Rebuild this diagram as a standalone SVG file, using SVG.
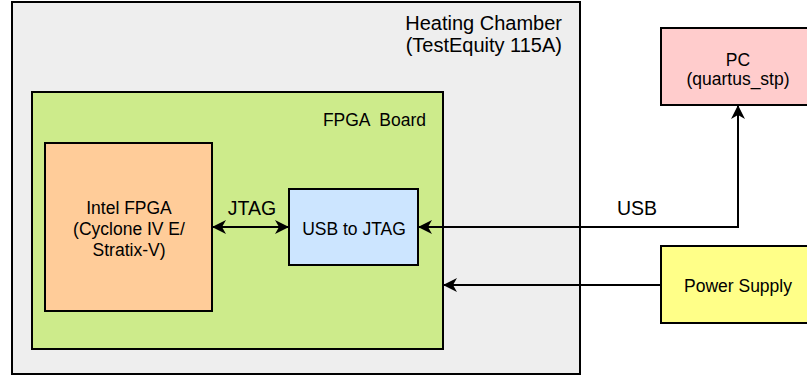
<svg xmlns="http://www.w3.org/2000/svg" width="807" height="377" viewBox="0 0 807 377">
<style>
.box{stroke:#000;stroke-width:2}
.t{font-family:"Liberation Sans",Arial,sans-serif;fill:#000}
.n{font-size:17.5px;text-anchor:middle}
.c{stroke:#000;stroke-width:2;fill:none}
</style>
<defs>
<marker id="ah" viewBox="0 0 14 14" refX="13" refY="7" markerWidth="14" markerHeight="14" markerUnits="userSpaceOnUse" orient="auto-start-reverse">
<path d="M0,0 L14,7 L0,14 L4,7 Z" fill="#000"/>
</marker>
</defs>
<rect width="807" height="377" fill="#fff"/>
<g id="chamber">
<rect class="box" x="12" y="2" width="568" height="372" fill="#eeeeee"/>
<text class="t" x="562" y="30" font-size="20" text-anchor="end">Heating Chamber</text>
<text class="t" x="562" y="52" font-size="20" text-anchor="end">(TestEquity 115A)</text>
</g>
<g id="fpga-board">
<rect class="box" x="32" y="92" width="411" height="257" fill="#cdeb8b"/>
<text class="t" x="426" y="126" font-size="17.5" text-anchor="end" xml:space="preserve">FPGA  Board</text>
</g>
<g id="intel-fpga">
<rect class="box" x="45" y="143" width="167" height="168" fill="#ffcc99"/>
<text class="t n" x="129" y="214">Intel FPGA</text>
<text class="t n" x="129" y="235">(Cyclone IV E/</text>
<text class="t n" x="129" y="255.5">Stratix-V)</text>
</g>
<g id="usb-jtag">
<rect class="box" x="289" y="189" width="129" height="76" fill="#cce5ff"/>
<text class="t n" x="354" y="235">USB to JTAG</text>
</g>
<g id="pc">
<rect class="box" x="661" y="28" width="160" height="77" fill="#ffcccc"/>
<text class="t n" x="738" y="66">PC</text>
<text class="t n" x="738" y="85">(quartus_stp)</text>
</g>
<g id="power-supply">
<rect class="box" x="661" y="246" width="160" height="77" fill="#ffff88"/>
<text class="t n" x="738" y="291.5">Power Supply</text>
</g>
<g id="connectors">
<path class="c" d="M213,227 L288,227" marker-start="url(#ah)" marker-end="url(#ah)"/>
<text class="t" x="252" y="215" font-size="19.5" text-anchor="middle">JTAG</text>
<path class="c" d="M419,227 L738,227 L738,106" marker-start="url(#ah)" marker-end="url(#ah)"/>
<text class="t" x="637" y="215" font-size="19.5" text-anchor="middle">USB</text>
<path class="c" d="M661,285 L444,285" marker-end="url(#ah)"/>
</g>
</svg>
